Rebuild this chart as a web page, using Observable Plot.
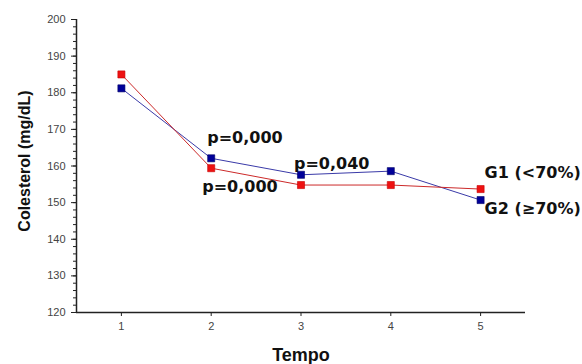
<!DOCTYPE html>
<html>
<head>
<meta charset="utf-8">
<script src="https://cdn.jsdelivr.net/npm/d3@7"></script>
<script src="https://cdn.jsdelivr.net/npm/@observablehq/plot@0.6"></script>
<style>
  html, body { margin: 0; padding: 0; background: #fff; }
  #chart svg { display: block; }
</style>
</head>
<body>
<div id="chart"></div>
<script>
const tempo = [1, 2, 3, 4, 5];
const g1 = [185, 159.4, 154.8, 154.8, 153.7];
const g2 = [181.2, 162.1, 157.6, 158.6, 150.7];
const seriesNames = ["G1", "G2"];
const yTicks = [120, 130, 140, 150, 160, 170, 180, 190, 200];
const yMinorTicks = d3.range(120, 201, 2);

const rows = [];
tempo.forEach((t, i) => {
  rows.push({tempo: t, valor: g1[i], serie: "G1"});
  rows.push({tempo: t, valor: g2[i], serie: "G2"});
});
const pt = (s, t) => rows.filter(d => d.serie === s && d.tempo === t);

const annoFont = {fontFamily: "DejaVu Sans", fontWeight: "bold", fontSize: 16, fill: "#111", lineAnchor: "middle", textAnchor: "start"};

const chart = Plot.plot({
  width: 582,
  height: 364,
  marginLeft: 76,
  marginRight: 57,
  marginTop: 19,
  marginBottom: 52,
  style: {fontFamily: "Liberation Sans, Arial, sans-serif", background: "#fff"},
  x: {domain: [0.5, 5.5]},
  y: {domain: [120, 200]},
  marks: [
    Plot.axisY({ticks: yMinorTicks, tickSize: 3, text: null, stroke: "#222", label: null}),
    Plot.axisY({ticks: yTicks, tickSize: 5, tickPadding: 6, tickFormat: "d", fontSize: 11, fill: "#444", stroke: "#222", label: null}),
    Plot.axisX({ticks: tempo, tickSize: 4, tickPadding: 6, tickFormat: "d", fontSize: 11, fill: "#444", stroke: "#222", label: null}),
    Plot.ruleX([0.5], {stroke: "#222", strokeWidth: 1.5}),
    Plot.ruleY([120], {stroke: "#222", strokeWidth: 1.5}),
    Plot.line(rows.filter(d => d.serie === "G2"), {x: "tempo", y: "valor", stroke: "#3a3aa8", strokeWidth: 1}),
    Plot.line(rows.filter(d => d.serie === "G1"), {x: "tempo", y: "valor", stroke: "#cc2a2a", strokeWidth: 1}),
    Plot.dot(rows, {x: "tempo", y: "valor", symbol: "square", r: 4,
      fill: d => d.serie === "G1" ? "#ee1111" : "#000099",
      stroke: d => d.serie === "G1" ? "#c80000" : "#000066", strokeWidth: 0.6}),
    Plot.text(pt("G2", 2), {x: "tempo", y: "valor", text: () => "p=0,000", dx: -4, dy: -20, ...annoFont}),
    Plot.text(pt("G1", 2), {x: "tempo", y: "valor", text: () => "p=0,000", dx: -9, dy: 19, ...annoFont}),
    Plot.text(pt("G2", 3), {x: "tempo", y: "valor", text: () => "p=0,040", dx: -7, dy: -11, ...annoFont}),
    Plot.text(pt("G1", 5), {x: "tempo", y: "valor", text: () => "G1 (<70%)", dx: 4, dy: -16, ...annoFont}),
    Plot.text(pt("G2", 5), {x: "tempo", y: "valor", text: () => "G2 (≥70%)", dx: 4, dy: 9, ...annoFont}),
    Plot.text(["Colesterol (mg/dL)"], {frameAnchor: "left", rotate: -90, dx: -52, dy: -5, fontSize: 16, fontWeight: "bold", fill: "#111", lineAnchor: "middle", textAnchor: "middle"}),
    Plot.text(["Tempo"], {frameAnchor: "bottom", dy: 43, fontSize: 18, fontWeight: "bold", fill: "#111", lineAnchor: "middle", textAnchor: "middle"})
  ]
});
document.getElementById("chart").appendChild(chart);
</script>
</body>
</html>
